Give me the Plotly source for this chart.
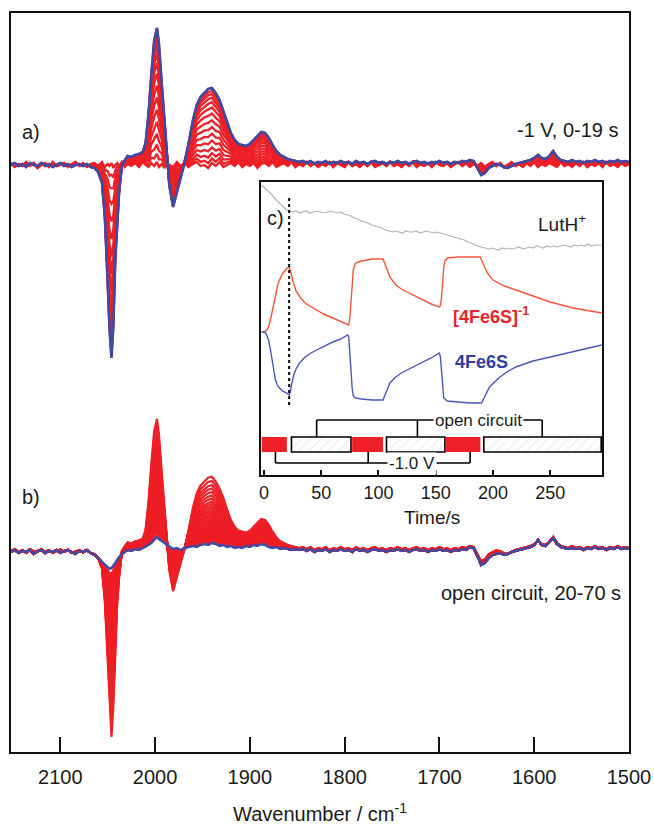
import plotly.graph_objects as go

# ---------------- main spectra (wavenumber grid, cm-1) ----------------
wavenumber = [2152, 2148, 2144, 2140, 2136, 2132, 2128, 2124, 2120, 2116, 2112, 2108, 2104, 2100,
              2096, 2092, 2088, 2084, 2080, 2076, 2072, 2068,
              2064, 2060, 2056, 2053, 2050, 2048, 2046, 2044, 2042, 2040, 2038, 2035, 2032, 2029, 2025,
              2021, 2017, 2013, 2010, 2007, 2004, 2001, 1998, 1996, 1993, 1990, 1988, 1985, 1981, 1977,
              1973, 1969, 1965, 1960, 1956, 1952, 1948, 1944, 1940, 1936, 1932, 1928, 1924, 1920, 1916,
              1912, 1908, 1904, 1900, 1896, 1892, 1888, 1884, 1880, 1876, 1872, 1868, 1864, 1860, 1856,
              1852, 1848, 1844,
              1840, 1836, 1832, 1828, 1824, 1820, 1816, 1812, 1808, 1804, 1800, 1796, 1792, 1788, 1784,
              1780, 1776, 1772, 1768, 1764, 1760, 1756, 1752, 1748, 1744, 1740, 1736, 1732, 1728, 1724,
              1720, 1716, 1712, 1708, 1704, 1700, 1696, 1692, 1688, 1684, 1680, 1676, 1672, 1668, 1664,
              1660, 1656, 1652, 1648, 1644, 1640, 1636, 1632, 1628, 1624, 1620, 1616, 1612, 1608, 1604,
              1600, 1596, 1592, 1588, 1584, 1580, 1576, 1572, 1568, 1564, 1560, 1556, 1552, 1548, 1544,
              1540, 1536, 1532, 1528, 1524, 1520, 1516, 1512, 1508, 1504, 1500]

# final spectrum of panel a (-1 V, 19 s), difference absorbance (arb. units)
final_a = [0, 2, -1, 1, -2, 2, 0, -1, 2, -1, 1, -2, 0, 2, -1, 1, -2, 0, 1, -1, 1, -2,
           -3, -7, -18, -52, -118, -165, -193, -160, -95, -55, -28, 0, 5, 9, 8,
           10, 11, 13, 22, 50, 90, 124, 137, 122, 82, 42, 15, -20, -42, -28,
           -12, 2, 20, 45, 60, 68, 72, 76, 77, 72, 65, 55, 43, 32, 25,
           21, 20, 19, 21, 25, 30, 33, 32, 27, 20, 14, 10, 8, 6, 5,
           4, 3, 4,
           2, 4, 1, 3, 2, 4, 1, 3, 2, 4, 2, 3, 1, 4, 2,
           3, 1, 3, 4, 2, 3, 1, 3, 2, 4, 2, 3, 1, 3, 4,
           2, 3, 1, 3, 2, 4, 2, 3, 1, 3, 2, 4, 3, 5, 4,
           -3, -10, -8, -3, -1, 1, 0, -2, -3, -1, 1, 2, 3, 4, 5,
           7, 10, 7, 6, 9, 14, 8, 5, 4, 3, 5, 3, 4, 2, 4,
           3, 5, 3, 4, 2, 4, 3, 5, 3, 4, 3]

# first spectrum of panel a (0 s): baseline noise only
start_a = [2, -2, 1, -1, 3, -1, 2, -3, 0, 2, -2, 3, -1, 0, 2, -2, 1, 3, -1, 2, -2, 1,
           2, -1, 3, -2, 1, -1, 2, -3, 0, 2, -1, 3, -2, 1, -1,
           2, -2, 3, 0, -2, 2, -1, 3, -2, 1, -3, 2, 0, -2, 3,
           -1, 2, -2, 1, 3, -1, 0, -3, 2, -1, 3, -2, 0, 2, -1,
           3, -2, 1, -1, 2, -3, 1, 2, -1, 3, -2, 0, 2, -1, 3,
           -2, 1, -1,
           3, -1, 2, -2, 1, -1, 3, -2, 2, 0, -2, 3, -1, 1, -2,
           2, -1, 3, -2, 0, 2, -1, 3, -1, 1, -2, 2, -1, 3, -2,
           1, -1, 2, -2, 3, 0, -1, 2, -2, 1, 3, -1, 2, -2, 1,
           -1, 2, -2, 1, 3, -1, 2, -2, 0, 3, -1, 1, -2, 2, -1,
           3, -2, 1, -1, 2, 0, -2, 3, -1, 1, -2, 2, -1, 3, -2,
           1, -1, 2, -2, 3, -1, 1, -2, 2, -1, 1]

# final spectrum of panel b (open circuit, 70 s)
final_b = [-1, 1, -2, 0, -1, 1, -3, 0, 1, -2, 0, -1, 1, -2, 0, 1, -1, -3, 0, -1, 1, -2,
           -4, -7, -11, -14, -17, -18, -17, -15, -12, -9, -6, -3, -1, 1, 0,
           2, 1, 3, 4, 6, 8, 11, 14, 12, 10, 8, 6, 4, 2, 3,
           1, 3, 4, 5, 4, 6, 7, 6, 8, 7, 5, 6, 4, 5, 3,
           4, 3, 5, 4, 6, 5, 7, 6, 4, 3, 4, 2, 3, 2, 1,
           2, 1, 2,
           0, 2, -1, 1, 0, 2, -1, 1, 0, 2, 0, 1, -1, 2, 0,
           1, -1, 1, 2, 0, 1, -1, 1, 0, 2, 0, 1, -1, 1, 2,
           0, 1, -1, 1, 0, 2, 0, 1, -1, 1, 0, 2, 1, 4, 3,
           -5, -14, -12, -7, -4, -3, -2, -4, -3, -1, 0, 1, 2, 3, 4,
           6, 11, 6, 5, 9, 13, 7, 4, 3, 2, 3, 2, 3, 1, 3,
           2, 4, 2, 3, 1, 3, 2, 4, 2, 3, 2]

# relative amplitudes of the successive spectra (panel a: growth 0-19 s, panel b: decay 20-70 s)
amp_a = [0.0, 0.06, 0.13, 0.21, 0.30, 0.39, 0.48, 0.57, 0.66, 0.74,
         0.81, 0.87, 0.92, 0.96, 1.0]
amp_b = [0.96, 0.90, 0.84, 0.79, 0.74, 0.69, 0.645, 0.60, 0.565, 0.53,
         0.495, 0.465, 0.435, 0.405, 0.38, 0.355, 0.333, 0.31, 0.29, 0.272,
         0.255, 0.238, 0.222, 0.208, 0.195, 0.182, 0.17, 0.159, 0.149, 0.139,
         0.13, 0.122, 0.114, 0.107, 0.1, 0.093, 0.087, 0.081, 0.076, 0.071,
         0.066, 0.062, 0.058, 0.054, 0.05, 0.046, 0.042, 0.038, 0.034, 0.03]
offset_a = 386   # vertical offset of panel a above panel b

# ---------------- inset c: kinetics ----------------
red_t = [-2, 0, 2, 4, 6, 8, 10, 12, 14, 16, 18, 20, 22, 23, 25, 28, 32, 36, 40, 46, 52, 58, 64, 70, 74,
         75, 76, 77, 78, 80, 85, 90, 95, 100, 104, 106, 108, 110, 115, 120, 125, 132, 139, 146, 153,
         154, 155, 156, 157, 158, 160, 170, 180, 189, 190, 192, 195, 200, 210, 220, 230, 240, 250,
         260, 270, 280, 295]
red_v = [143, 143, 144, 148, 157, 169, 181, 190, 196, 201, 204, 207, 208, 205, 195, 184, 177, 172, 169,
         165, 161, 158, 155, 152, 150, 157, 175, 193, 205, 212, 214, 215, 216, 216, 216, 210, 204, 198,
         190, 186, 183, 179, 175, 171, 168, 169, 177, 193, 207, 214, 217, 218, 218, 218, 215, 209, 202,
         195, 189, 185, 181, 177, 173, 170, 167, 165, 162]
blue_t = [-2, 0, 2, 4, 6, 8, 10, 12, 14, 16, 18, 20, 22, 23, 24, 26, 28, 31, 36, 41, 46, 53, 60, 67, 73,
          74, 75, 76, 77, 78, 80, 85, 95, 104, 106, 108, 110, 115, 120, 125, 132, 139, 146, 153, 154,
          155, 156, 157, 160, 170, 180, 190, 192, 195, 197, 205, 212, 220, 235, 250, 265, 280, 295]
blue_v = [143, 143, 141, 135, 123, 107, 95, 89, 86, 84, 83, 82, 80, 83, 90, 100, 106, 112, 118, 122,
          125, 129, 133, 136, 140, 138, 125, 105, 87, 79, 77, 76, 75, 75, 81, 87, 92, 98, 102, 105,
          109, 113, 117, 122, 119, 105, 87, 77, 74, 73, 72, 72, 77, 83, 88, 97, 103, 108, 114, 118,
          122, 126, 130]
gray_t = [-2, 1, 4, 7, 10, 13, 16, 19, 22, 25, 28, 31, 34, 37, 40, 43, 46, 49, 52, 55, 58, 61, 64, 67,
          70, 73, 76, 79, 82, 85, 88, 91, 94, 97, 100, 103, 106, 109, 112, 115, 118, 121, 124, 127,
          130, 133, 136, 139, 142, 145, 148, 151, 154, 157, 160, 163, 166, 169, 172, 175, 178, 181,
          184, 187, 190, 193, 196, 199, 202, 205, 208, 211, 214, 217, 220, 223, 226, 229, 232, 235,
          238, 241, 244, 247, 250, 253, 256, 259, 262, 265, 268, 271, 274, 277, 280, 283, 286, 289,
          292, 295]
gray_v = [290, 287, 283, 280, 276, 272, 269, 266, 264, 263, 264, 262, 263, 264, 262, 263, 264, 263,
          262, 263, 264, 263, 262, 263, 261, 260, 259, 257, 256, 254, 253, 252, 250, 249, 248, 247,
          245, 244, 243, 244, 243, 242, 244, 243, 243, 244, 242, 243, 244, 243, 242, 243, 242, 241,
          240, 239, 238, 237, 236, 235, 233, 232, 230, 229, 228, 227, 226, 227, 226, 225, 227, 226,
          227, 226, 227, 228, 226, 227, 228, 227, 229, 228, 227, 229, 228, 229, 228, 229, 230, 229,
          228, 230, 229, 230, 229, 231, 229, 230, 230, 230]

# potential-step protocol
reduce_start = [-2, 77, 159]
reduce_end = [20, 104, 189]
open_start = [24, 107, 192]
open_end = [76, 158, 294.5]
open_bracket_t = [46, 134, 243]
reduce_bracket_t = [10, 91, 180]
marker_time = 22

assert len(wavenumber) == len(final_a) == len(final_b) == len(start_a)
assert len(red_t) == len(red_v) and len(blue_t) == len(blue_v) and len(gray_t) == len(gray_v)

RED = "#ee1f26"
BLUE = "#3a4ca6"
FONT = "Liberation Sans, Arial, sans-serif"

fig = go.Figure()

# panel a: spectra grow from start_a (0 s) to final_a (19 s)
for f in amp_a:
    fig.add_trace(go.Scatter(x=wavenumber,
                             y=[offset_a + s + f * (v - s) for s, v in zip(start_a, final_a)],
                             mode="lines", line=dict(color=RED, width=2.3), hoverinfo="skip"))
fig.add_trace(go.Scatter(x=wavenumber, y=[offset_a + v for v in final_a], mode="lines",
                         line=dict(color=BLUE, width=2.6), hoverinfo="skip"))
# panel b: spectra decay from final_a (20 s) to final_b (70 s)
for g in amp_b:
    fig.add_trace(go.Scatter(x=wavenumber, y=[vb + g * (va - vb) for va, vb in zip(final_a, final_b)],
                             mode="lines", line=dict(color=RED, width=2.2), hoverinfo="skip"))
fig.add_trace(go.Scatter(x=wavenumber, y=final_b, mode="lines",
                         line=dict(color=BLUE, width=2.4), hoverinfo="skip"))

# inset traces
fig.add_trace(go.Scatter(x=gray_t, y=gray_v, mode="lines", line=dict(color="#b4b4b4", width=1.2),
                         xaxis="x2", yaxis="y2"))
fig.add_trace(go.Scatter(x=red_t, y=red_v, mode="lines", line=dict(color="#f2553a", width=1.4),
                         xaxis="x2", yaxis="y2"))
fig.add_trace(go.Scatter(x=blue_t, y=blue_v, mode="lines", line=dict(color="#4a58bb", width=1.4),
                         xaxis="x2", yaxis="y2"))

# protocol bars
bar_y = 30.5
fig.add_trace(go.Bar(x=[e - s for s, e in zip(reduce_start, reduce_end)], base=reduce_start,
                     y=[bar_y] * 3, orientation="h", width=15, xaxis="x2", yaxis="y2",
                     marker=dict(color=RED, line=dict(color=RED, width=0))))
fig.add_trace(go.Bar(x=[e - s for s, e in zip(open_start, open_end)], base=open_start,
                     y=[bar_y] * 3, orientation="h", width=15, xaxis="x2", yaxis="y2",
                     marker=dict(color="white", line=dict(color="black", width=1.6),
                                 pattern=dict(shape="/", fgcolor="#b8b8b8", size=7, solidity=0.12,
                                              fillmode="overlay"))))

shapes = []
top_bar, bot_bar = bar_y + 7.5, bar_y - 7.5
open_y, red_y = 55, 12
shapes.append(dict(type="line", xref="x2", yref="y2", x0=open_bracket_t[0], x1=open_bracket_t[-1],
                   y0=open_y, y1=open_y, line=dict(color="black", width=1.6)))
for t in open_bracket_t:
    shapes.append(dict(type="line", xref="x2", yref="y2", x0=t, x1=t, y0=top_bar, y1=open_y,
                       line=dict(color="black", width=1.6)))
shapes.append(dict(type="line", xref="x2", yref="y2", x0=reduce_bracket_t[0], x1=reduce_bracket_t[-1],
                   y0=red_y, y1=red_y, line=dict(color="black", width=1.6)))
for t in reduce_bracket_t:
    shapes.append(dict(type="line", xref="x2", yref="y2", x0=t, x1=t, y0=bot_bar, y1=red_y,
                       line=dict(color="black", width=1.6)))
shapes.append(dict(type="line", xref="x2", yref="y2", x0=marker_time, x1=marker_time, y0=70, y1=280,
                   line=dict(color="black", width=2, dash="dot")))


def PX(x):
    return (x - 11) / 618.0


def PY(y):
    return (752 - y) / 739.0


TXT = "#1a1a1a"
ann = []


def add(text, x, y, xa="left", size=20, color=TXT, **kw):
    ann.append(dict(text=text, x=PX(x), y=PY(y), xref="paper", yref="paper", xanchor=xa,
                    yanchor="middle", showarrow=False, font=dict(family=FONT, size=size, color=color), **kw))


add("a)", 20, 132)
add("-1 V, 0-19 s", 621, 130, xa="right")
add("b)", 20, 497)
add("open circuit, 20-70 s", 623, 593, xa="right")
add("c)", 265, 218)
add("LutH<sup>+</sup>", 588, 223, xa="right", size=19)
add("<b>[4Fe6S]<sup>-1</sup></b>", 451, 316, size=18, color="#e8232a")
add("<b>4Fe6S</b>", 453, 362, size=18, color="#2f3f9c")
add("Time/s", 432, 517, xa="center", size=19)
add("Wavenumber / cm<sup>-1</sup>", 320, 812, xa="center", size=20)
ann.append(dict(text="open circuit", x=187, y=open_y, xref="x2", yref="y2", showarrow=False,
                bgcolor="white", borderpad=1, font=dict(family=FONT, size=17, color=TXT)))
ann.append(dict(text="-1.0 V", x=129, y=red_y, xref="x2", yref="y2", showarrow=False,
                bgcolor="white", borderpad=1, font=dict(family=FONT, size=17, color=TXT)))

fig.update_layout(
    width=654, height=827,
    margin=dict(l=11, r=25, t=13, b=75, autoexpand=False),
    paper_bgcolor="white", plot_bgcolor="white",
    showlegend=False, barmode="overlay",
    font=dict(family=FONT, color=TXT),
    shapes=shapes, annotations=ann,
    xaxis=dict(range=[2152, 1500], tickvals=[2100, 2000, 1900, 1800, 1700, 1600, 1500],
               ticks="inside", ticklen=15, tickwidth=2, tickcolor="#111", automargin=False,
               showline=True, mirror=True, linewidth=2, linecolor="#111",
               showgrid=False, zeroline=False, tickfont=dict(size=20, family=FONT, color=TXT),
               ticklabelstandoff=6),
    yaxis=dict(range=[-201, 538], showticklabels=False, ticks="", showline=True, mirror=True,
               linewidth=2, linecolor="#111", showgrid=False, zeroline=False, automargin=False),
    xaxis2=dict(domain=[PX(261), PX(602)], anchor="y2", range=[-2.6, 295.2], automargin=False,
                tickvals=[0, 50, 100, 150, 200, 250], ticks="inside", ticklen=5, tickwidth=1.5,
                tickcolor="#111", showline=True, mirror=True, linewidth=2, linecolor="#111",
                showgrid=False, zeroline=False, tickfont=dict(size=18, family=FONT, color=TXT),
                ticklabelstandoff=0),
    yaxis2=dict(domain=[PY(475), PY(182)], anchor="x2", range=[0, 293], showticklabels=False,
                ticks="", showline=True, mirror=True, linewidth=2, linecolor="#111",
                showgrid=False, zeroline=False, automargin=False),
)

fig.write_html("out.html", config={"displayModeBar": False},
               post_script="document.body.style.margin='0';document.body.style.overflow='hidden';")
